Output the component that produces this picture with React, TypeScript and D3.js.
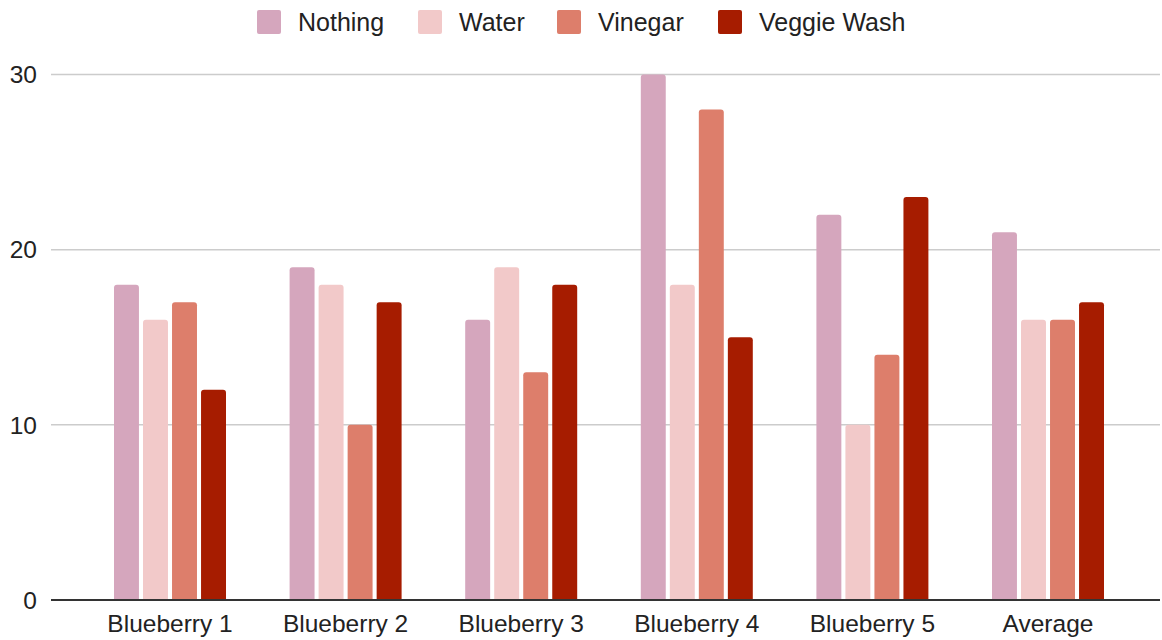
import React from "react";
import * as d3 from "d3";

const categories = ["Blueberry 1", "Blueberry 2", "Blueberry 3", "Blueberry 4", "Blueberry 5", "Average"];
const seriesNames = ["Nothing", "Water", "Vinegar", "Veggie Wash"];
const nothing = [18, 19, 16, 30, 22, 21];
const water = [16, 18, 19, 18, 10, 16];
const vinegar = [17, 10, 13, 28, 14, 16];
const veggieWash = [12, 17, 18, 15, 23, 17];
const yTicks = [0, 10, 20, 30];
const colors = ["#d5a6bd", "#f2c9c9", "#dd7e6b", "#a61c00"];

const seriesValues = [nothing, water, vinegar, veggieWash];

const W = 1162;
const H = 640;
const FONT = "'Liberation Sans', Arial, sans-serif";

function topRounded(x: number, y: number, w: number, h: number, r: number) {
  const rr = Math.min(r, h, w / 2);
  return `M${x},${y + h}V${y + rr}Q${x},${y} ${x + rr},${y}H${x + w - rr}Q${x + w},${y} ${x + w},${y + rr}V${y + h}Z`;
}

export default function App() {
  const y = d3.scaleLinear().domain([0, 30]).range([600, 74.5]);
  const x0 = d3.scaleBand<string>().domain(categories).range([82.2, 1135.8]).paddingInner(0).paddingOuter(0);
  const groupW = 112;
  const x1 = d3.scaleBand<string>().domain(seriesNames).range([0, groupW]).paddingInner(0.14).paddingOuter(0);

  const legendX = [257, 418, 557, 718];

  return (
    <svg width={W} height={H} style={{ position: "absolute", left: 0, top: 0, background: "#fff" }} fontFamily={FONT}>
      {yTicks.filter((t) => t !== 0).map((t) => (
        <line key={t} x1={51} x2={1160} y1={y(t)} y2={y(t)} stroke="#cccccc" strokeWidth={1.5} />
      ))}
      {yTicks.map((t) => (
        <text key={t} x={37} y={y(t)} dy="0.36em" textAnchor="end" fontSize={24.5} fill="#222">
          {t}
        </text>
      ))}
      {categories.map((c, ci) => {
        const gx = x0(c)! + (x0.bandwidth() - groupW) / 2;
        return (
          <g key={c}>
            {seriesNames.map((s, si) => {
              const v = seriesValues[si][ci];
              const bx = gx + x1(s)!;
              const by = y(v);
              return <path key={s} d={topRounded(bx, by, x1.bandwidth(), y(0) - by, 3)} fill={colors[si]} />;
            })}
            <text x={x0(c)! + x0.bandwidth() / 2} y={632} textAnchor="middle" fontSize={24.5} fill="#222">
              {c}
            </text>
          </g>
        );
      })}
      <line x1={51} x2={1160} y1={y(0)} y2={y(0)} stroke="#333333" strokeWidth={2} />
      {seriesNames.map((s, i) => (
        <g key={s}>
          <rect x={legendX[i]} y={10} width={24} height={24} rx={2} fill={colors[i]} />
          <text x={legendX[i] + 41} y={22} dy="0.36em" fontSize={25} fill="#222">
            {s}
          </text>
        </g>
      ))}
    </svg>
  );
}
